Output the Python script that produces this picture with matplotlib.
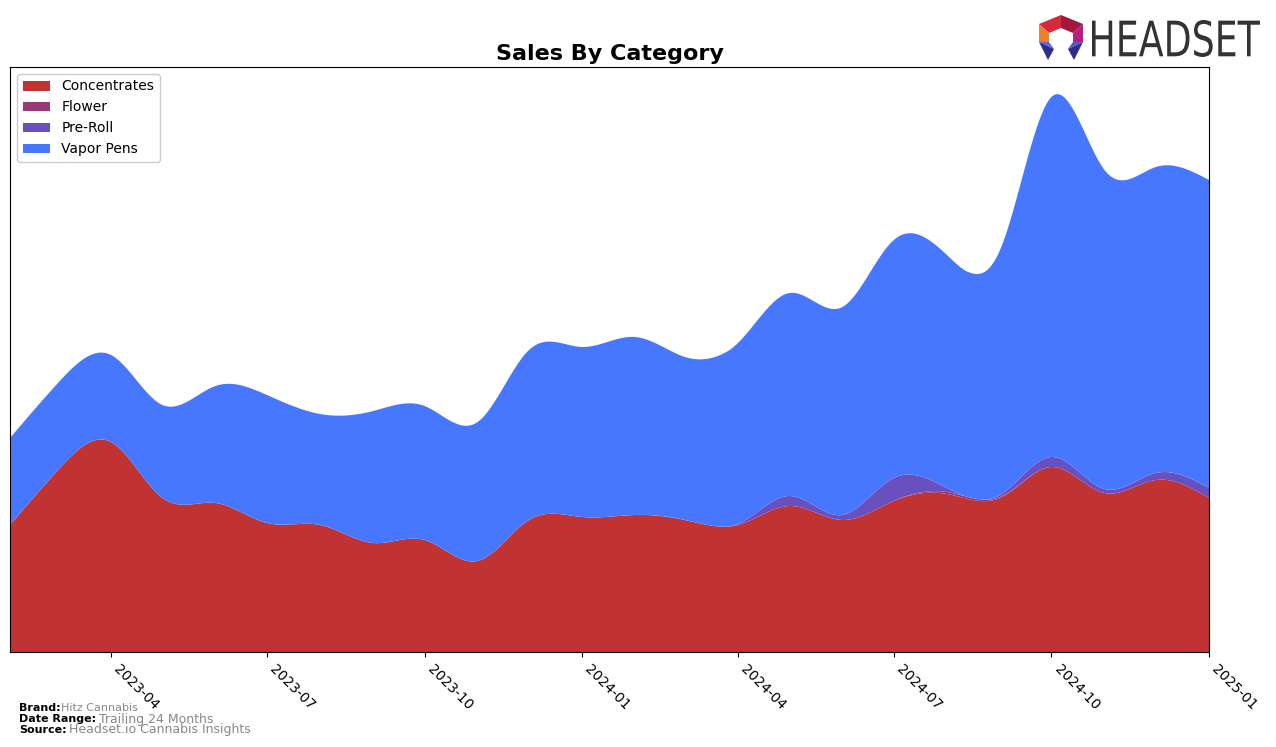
import numpy as np
import pandas as pd
import matplotlib
matplotlib.use("Agg")
import matplotlib.pyplot as plt
from matplotlib.patches import Polygon, PathPatch
from matplotlib.textpath import TextPath
from matplotlib.font_manager import FontProperties
from matplotlib.transforms import Affine2D

months = pd.date_range("2023-02-01", "2025-01-01", freq="MS")
categories = ["Concentrates", "Flower", "Pre-Roll", "Vapor Pens"]
colors = ["#C13333", "#993A78", "#6A4FBE", "#4877FF"]

concentrates = [127, 182, 210, 154, 149, 129, 127, 109, 112, 91, 132, 135,
                137, 132, 127, 146, 132, 151, 158, 154, 185, 159, 172, 154]
flower = [0, 0, 0, 0, 0, 0, 0, 0, 0, 0, 0, 0,
          0, 0, 0, 0, 0, 0, 2, 1, 0, 0, 0, 0]
pre_roll = [0, 0, 0, 0, 0, 0, 0, 0, 0, 0, 0, 0,
            0, 0, 1, 10, 5, 23, 4, 2, 10, 4, 7, 10]
vapor_pens = [87, 87, 87, 93, 117, 128, 111, 132, 134, 139, 170, 170,
              178, 163, 181, 203, 208, 238, 233, 245, 360, 319, 306, 308]

series = [concentrates, flower, pre_roll, vapor_pens]

W, H = 1276, 747


def natural_spline(x, y, xs):
    # plain natural cubic spline, only used to draw smooth edges
    x = np.asarray(x, float)
    y = np.asarray(y, float)
    n = len(x)
    h = np.diff(x)
    A = np.zeros((n, n))
    b = np.zeros(n)
    A[0, 0] = A[-1, -1] = 1
    for i in range(1, n - 1):
        A[i, i - 1] = h[i - 1]
        A[i, i] = 2 * (h[i - 1] + h[i])
        A[i, i + 1] = h[i]
        b[i] = 3 * ((y[i + 1] - y[i]) / h[i] - (y[i] - y[i - 1]) / h[i - 1])
    c = np.linalg.solve(A, b)
    idx = np.clip(np.searchsorted(x, xs) - 1, 0, n - 2)
    dx = xs - x[idx]
    bb = (y[idx + 1] - y[idx]) / h[idx] - h[idx] * (2 * c[idx] + c[idx + 1]) / 3
    dd = (c[idx + 1] - c[idx]) / (3 * h[idx])
    return y[idx] + bb * dx + c[idx] * dx ** 2 + dd * dx ** 3


def px(pts):
    # pixel coords (y from top) -> figure fraction
    return [(x / W, 1 - y / H) for x, y in pts]


xnum = matplotlib.dates.date2num(months)
xs = np.linspace(xnum[0], xnum[-1], 1200)
smooth = [np.clip(natural_spline(xnum, s, xs), 0, None) for s in series]

fig = plt.figure(figsize=(W / 100, H / 100), dpi=100)
ax = fig.add_axes([10 / W, 1 - 652 / H, 1199 / W, 585 / H])

ax.stackplot(matplotlib.dates.num2date(xs), *smooth, labels=categories,
             colors=colors, edgecolor="none")

ax.set_xlim(months[0], months[-1])
ax.set_ylim(0, 585)
ax.set_yticks([])
ticks = pd.date_range("2023-04-01", "2025-01-01", freq="3MS")
ax.set_xticks(ticks)
ax.set_xticklabels([t.strftime("%Y-%m") for t in ticks], rotation=-45,
                   ha="left", fontsize=10)
ax.set_title("Sales By Category", fontsize=16, fontweight="bold", pad=5)
ax.legend(loc="upper left", fontsize=10, framealpha=1)

# footer
rows = [("Brand:", "Hitz Cannabis", 8), ("Date Range:", "Trailing 24 Months", 9),
        ("Source:", "Headset.io Cannabis Insights", 9)]
fig.canvas.draw()
r = fig.canvas.get_renderer()
for i, (lab, val, fs) in enumerate(rows):
    y = 1 - (708 + 11 * i) / H
    t = fig.text(19 / W, y, lab, fontsize=8, fontweight="bold", va="center")
    w = t.get_window_extent(r).width / W
    fig.text(19 / W + w + (0.002 if i else 0), y, val, fontsize=fs,
             color="#888888", va="center")

# logo text, scaled into its box
tp = TextPath((0, 0), "HEADSET", size=100, prop=FontProperties(family="DejaVu Sans"))
ext = tp.get_extents()
x0, x1, ytop, ybot = 1092, 1260, 20, 57
sx = (x1 - x0) / W / ext.width
sy = (ybot - ytop) / H / ext.height
tr = Affine2D().translate(-ext.x0, -ext.y0).scale(sx, sy).translate(x0 / W, 1 - ybot / H)
fig.patches.append(PathPatch(tr.transform_path(tp), color="#333333",
                             lw=0, transform=fig.transFigure))

# logo mark
pieces = [
    ([(1061, 15), (1039, 24), (1049, 33), (1061, 28)], "#D42A3A"),
    ([(1061, 15), (1083, 24), (1073, 33), (1061, 28)], "#A3163E"),
    ([(1039, 24), (1039, 42), (1049, 42), (1049, 33)], "#F07F2A"),
    ([(1083, 24), (1083, 42), (1073, 42), (1073, 33)], "#B81E80"),
    ([(1039, 42), (1049, 42), (1054, 49)], "#6A62E0"),
    ([(1039, 42), (1054, 49), (1048, 60)], "#2E2E8A"),
    ([(1083, 42), (1073, 42), (1068, 49)], "#5457C8"),
    ([(1083, 42), (1068, 49), (1074, 60)], "#2E2E8A"),
]
for pts, c in pieces:
    fig.patches.append(Polygon(px(pts), closed=True, color=c, lw=0,
                               transform=fig.transFigure))

fig.savefig("out.png", dpi=100)
